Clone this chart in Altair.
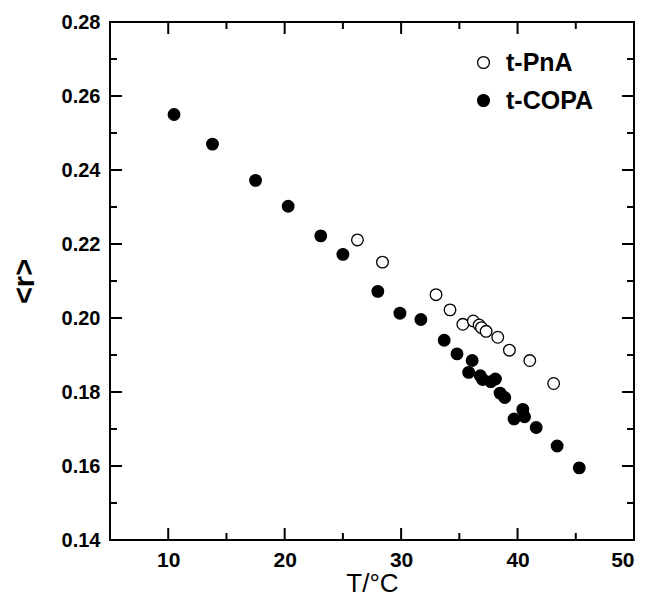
import altair as alt
import pandas as pd

# t-COPA (filled circles)
copa_T = [10.5, 13.8, 17.5, 20.3, 23.1, 25.0, 28.0, 29.9, 31.7, 33.7, 34.8, 35.8, 36.1,
          36.8, 37.0, 37.7, 38.1, 38.5, 38.9, 39.7, 40.45, 40.6, 41.6, 43.4, 45.3]
copa_r = [0.255, 0.247, 0.2372, 0.2302, 0.2222, 0.2172, 0.2072, 0.2013, 0.1996, 0.1940,
          0.1903, 0.1853, 0.1885, 0.1844, 0.1834, 0.1828, 0.1835, 0.1797, 0.1785, 0.1727,
          0.1753, 0.1733, 0.1704, 0.1654, 0.1595]
# t-PnA (open circles)
pna_T = [26.25, 28.4, 33.0, 34.2, 35.3, 36.2, 36.7, 36.9, 37.3, 38.3, 39.3, 41.05, 43.1]
pna_r = [0.2211, 0.2151, 0.2063, 0.2022, 0.1983, 0.1992, 0.1981, 0.1974, 0.1964, 0.1948,
         0.1913, 0.1885, 0.1823]

series_names = ["t-PnA", "t-COPA"]
x_major = [10, 20, 30, 40, 50]
x_minor = [15, 25, 35, 45]
y_major = [0.14, 0.16, 0.18, 0.20, 0.22, 0.24, 0.26, 0.28]
y_minor = [0.15, 0.17, 0.19, 0.21, 0.23, 0.25, 0.27]

W, H = 524, 518
FONT = "Liberation Sans"

df = pd.concat([
    pd.DataFrame({"T": pna_T, "r": pna_r, "series": series_names[0]}),
    pd.DataFrame({"T": copa_T, "r": copa_r, "series": series_names[1]}),
])

xscale = alt.Scale(domain=[5, 50], nice=False, zero=False)
yscale = alt.Scale(domain=[0.14, 0.28], nice=False, zero=False)

x_axis = alt.Axis(values=x_major, ticks=False, domain=False, grid=False,
                  labelFontSize=21, labelFont=FONT, labelFontWeight="bold",
                  labelColor="black", labelPadding=9,
                  title="T/°C", titleFont=FONT, titleFontSize=26,
                  titleFontWeight="normal", titleColor="black",
                  titleX=262, titleY=51, titleBaseline="alphabetic")
y_axis = alt.Axis(values=y_major, format=".2f", ticks=False, domain=False, grid=False,
                  labelFontSize=20, labelFont=FONT, labelFontWeight="bold",
                  labelColor="black", labelPadding=10,
                  title="<r>", titleFont=FONT, titleFontSize=29,
                  titleFontWeight="bold", titleColor="black", titleAngle=-90,
                  titleX=-86, titleY=259, titleAlign="center",
                  titleBaseline="middle")

points = alt.Chart(df).mark_point(filled=True, shape="circle", size=135, stroke="black",
                                  strokeWidth=1.3, opacity=1).encode(
    x=alt.X("T:Q", scale=xscale, axis=x_axis),
    y=alt.Y("r:Q", scale=yscale, axis=y_axis),
    fill=alt.Fill("series:N",
                  scale=alt.Scale(domain=series_names, range=["white", "black"]),
                  legend=alt.Legend(title=None, orient="none", legendX=361, legendY=28,
                                    labelFont=FONT, labelFontSize=25, labelFontWeight="bold",
                                    labelColor="black", symbolType="circle", symbolSize=140,
                                    symbolStrokeColor="black", symbolStrokeWidth=1.3,
                                    labelOffset=10, rowPadding=12, padding=0)),
)

tick_w = 2

def xticks(vals, length):
    d = pd.DataFrame({"v": vals})
    bot = alt.Chart(d).mark_rule(color="black", strokeWidth=tick_w).encode(
        x=alt.X("v:Q", scale=xscale, axis=x_axis), y=alt.value(H), y2=alt.value(H - length))
    top = alt.Chart(d).mark_rule(color="black", strokeWidth=tick_w).encode(
        x=alt.X("v:Q", scale=xscale, axis=x_axis), y=alt.value(0), y2=alt.value(length))
    return [bot, top]

def yticks(vals, length):
    d = pd.DataFrame({"v": vals})
    left = alt.Chart(d).mark_rule(color="black", strokeWidth=tick_w).encode(
        y=alt.Y("v:Q", scale=yscale, axis=y_axis), x=alt.value(0), x2=alt.value(length))
    right = alt.Chart(d).mark_rule(color="black", strokeWidth=tick_w).encode(
        y=alt.Y("v:Q", scale=yscale, axis=y_axis), x=alt.value(W), x2=alt.value(W - length))
    return [left, right]

layers = [points] + xticks(x_major, 12) + xticks(x_minor, 7) + yticks(y_major, 12) + yticks(y_minor, 7)

chart = alt.layer(*layers).properties(
    width=W, height=H,
    autosize=alt.AutoSizeParams(type="none"),
    padding={"left": 110, "top": 22, "right": 13, "bottom": 58},
    background="white",
).configure_view(stroke="black", strokeWidth=2)

chart.save("out.html", embed_options={"renderer": "svg", "actions": False})
